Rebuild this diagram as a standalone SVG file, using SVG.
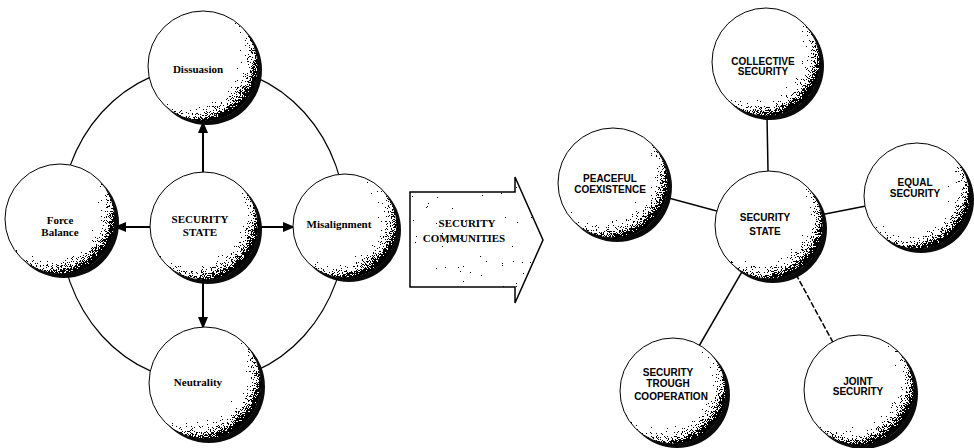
<svg xmlns="http://www.w3.org/2000/svg" width="974" height="448" viewBox="0 0 974 448">
  <defs>
    <!-- opacity ramp for the stippled shading toward the lower-right rim -->
    <radialGradient id="edge" cx="0.4" cy="0.4" r="0.64" fx="0.32" fy="0.32">
      <stop offset="0" stop-color="#000" stop-opacity="0"/>
      <stop offset="0.55" stop-color="#000" stop-opacity="0.05"/>
      <stop offset="0.75" stop-color="#000" stop-opacity="0.22"/>
      <stop offset="0.88" stop-color="#000" stop-opacity="0.42"/>
      <stop offset="0.96" stop-color="#000" stop-opacity="0.65"/>
      <stop offset="1" stop-color="#000" stop-opacity="0.9"/>
    </radialGradient>
    <!-- dithers an alpha ramp into a black dot stipple -->
    <filter id="grain" x="0" y="0" width="1" height="1" color-interpolation-filters="sRGB">
      <feTurbulence type="fractalNoise" baseFrequency="1.2" numOctaves="2" seed="3" result="n"/>
      <feComposite in="SourceAlpha" in2="n" operator="arithmetic" k1="0" k2="1" k3="1" k4="-0.5" result="s"/>
      <feComponentTransfer in="s" result="t">
        <feFuncA type="discrete" tableValues="0 1"/>
      </feComponentTransfer>
      <feFlood flood-color="#000"/>
      <feComposite in2="t" operator="in"/>
    </filter>
    <marker id="head" viewBox="0 0 12 10" refX="11" refY="5" markerWidth="12" markerHeight="10" markerUnits="userSpaceOnUse" orient="auto">
      <path d="M0,0 L12,5 L0,10 Z" fill="#000"/>
    </marker>
    <style>
      .shadow { fill: #0a0a0a; }
      .ball { fill: #fff; stroke: #000; stroke-width: 1; }
      .stip { fill: url(#edge); filter: url(#grain); }
      .serif { font-family: "Liberation Serif", "Times New Roman", serif; font-weight: bold; font-size: 11px; fill: #000; text-anchor: middle; }
      .sans { font-family: "Liberation Sans", Arial, sans-serif; font-weight: bold; font-size: 10px; fill: #000; text-anchor: middle; }
      .link { stroke: #000; stroke-width: 2; fill: none; }
      .ring { stroke: #000; stroke-width: 1.2; fill: none; }
      .spoke { stroke: #000; stroke-width: 1.5; fill: none; }
    </style>
  </defs>

  <!-- connectors -->
  <g id="connectors">
    <ellipse class="ring" cx="203" cy="224" rx="143" ry="158"/>
    <line class="link" x1="203" y1="172" x2="203" y2="122" marker-end="url(#head)"/>
    <line class="link" x1="150" y1="227" x2="115" y2="227" marker-end="url(#head)"/>
    <line class="link" x1="258" y1="227" x2="294" y2="227" marker-end="url(#head)"/>
    <line class="link" x1="203" y1="280" x2="203" y2="328" marker-end="url(#head)"/>
    <line class="spoke" x1="769" y1="225" x2="766" y2="62"/>
    <line class="spoke" x1="769" y1="225" x2="613" y2="183"/>
    <line class="spoke" x1="769" y1="225" x2="917" y2="196"/>
    <line class="spoke" x1="769" y1="225" x2="673" y2="391"/>
    <line class="spoke" x1="769" y1="225" x2="859" y2="390" stroke-width="1" stroke-dasharray="6 2"/>
  </g>

  <!-- left: security state options -->
  <g id="dissuasion">
    <circle class="shadow" cx="207" cy="70" r="55"/>
    <circle class="ball" cx="203" cy="66" r="55"/>
    <circle class="stip" cx="203" cy="66" r="55"/>
    <text class="serif" x="198" y="73">Dissuasion</text>
  </g>
  <g id="force-balance">
    <circle class="shadow" cx="64" cy="223" r="55"/>
    <circle class="ball" cx="60" cy="219" r="55"/>
    <circle class="stip" cx="60" cy="219" r="55"/>
    <text class="serif" x="60" y="224">Force</text>
    <text class="serif" x="60" y="236">Balance</text>
  </g>
  <g id="security-state-left">
    <circle class="shadow" cx="208" cy="230" r="54"/>
    <circle class="ball" cx="204" cy="226" r="54"/>
    <circle class="stip" cx="204" cy="226" r="54"/>
    <text class="serif" x="200" y="223">SECURITY</text>
    <text class="serif" x="200" y="236">STATE</text>
  </g>
  <g id="misalignment">
    <circle class="shadow" cx="349" cy="230" r="52"/>
    <circle class="ball" cx="345" cy="226" r="52"/>
    <circle class="stip" cx="345" cy="226" r="52"/>
    <text class="serif" x="339" y="228">Misalignment</text>
  </g>
  <g id="neutrality">
    <circle class="shadow" cx="209" cy="387" r="56"/>
    <circle class="ball" cx="205" cy="383" r="56"/>
    <circle class="stip" cx="205" cy="383" r="56"/>
    <text class="serif" x="198" y="386">Neutrality</text>
  </g>

  <!-- block arrow -->
  <g id="security-communities">
    <path d="M410,192 L515,192 L515,177 L543,240 L515,303 L515,287 L410,287 Z" fill="#fff"/>
    <path d="M410,192 L515,192 L515,177 L543,240 L515,303 L515,287 L410,287 Z" fill="#000" fill-opacity="0.2" filter="url(#grain)"/>
    <path d="M410,192 L515,192 L515,177 L543,240 L515,303 L515,287 L410,287 Z" fill="none" stroke="#000" stroke-width="1.5"/>
    <text class="serif" x="467" y="227" font-size="13">SECURITY</text>
    <text class="serif" x="464" y="242" font-size="13">COMMUNITIES</text>
  </g>

  <!-- right: security state concepts -->
  <g id="collective-security">
    <circle class="shadow" cx="770" cy="66" r="54"/>
    <circle class="ball" cx="766" cy="62" r="54"/>
    <circle class="stip" cx="766" cy="62" r="54"/>
    <text class="sans" x="763" y="65">COLLECTIVE</text>
    <text class="sans" x="763" y="75">SECURITY</text>
  </g>
  <g id="peaceful-coexistence">
    <circle class="shadow" cx="617" cy="187" r="55"/>
    <circle class="ball" cx="613" cy="183" r="55"/>
    <circle class="stip" cx="613" cy="183" r="55"/>
    <text class="sans" x="610" y="182">PEACEFUL</text>
    <text class="sans" x="610" y="193">COEXISTENCE</text>
  </g>
  <g id="equal-security">
    <circle class="shadow" cx="921" cy="200" r="53"/>
    <circle class="ball" cx="917" cy="196" r="53"/>
    <circle class="stip" cx="917" cy="196" r="53"/>
    <text class="sans" x="915" y="186">EQUAL</text>
    <text class="sans" x="915" y="197">SECURITY</text>
  </g>
  <g id="security-state-right">
    <circle class="shadow" cx="773" cy="229" r="54"/>
    <circle class="ball" cx="769" cy="225" r="54"/>
    <circle class="stip" cx="769" cy="225" r="54"/>
    <text class="sans" x="765" y="221" font-size="11">SECURITY</text>
    <text class="sans" x="765" y="235" font-size="11">STATE</text>
  </g>
  <g id="security-through-cooperation">
    <circle class="shadow" cx="677" cy="395" r="53"/>
    <circle class="ball" cx="673" cy="391" r="53"/>
    <circle class="stip" cx="673" cy="391" r="53"/>
    <text class="sans" x="668" y="376">SECURITY</text>
    <text class="sans" x="668" y="387">TROUGH</text>
    <text class="sans" x="671" y="400" font-size="9.5">COOPERATION</text>
  </g>
  <g id="joint-security">
    <circle class="shadow" cx="863" cy="394" r="55"/>
    <circle class="ball" cx="859" cy="390" r="55"/>
    <circle class="stip" cx="859" cy="390" r="55"/>
    <text class="sans" x="858" y="385">JOINT</text>
    <text class="sans" x="858" y="395">SECURITY</text>
  </g>
</svg>
